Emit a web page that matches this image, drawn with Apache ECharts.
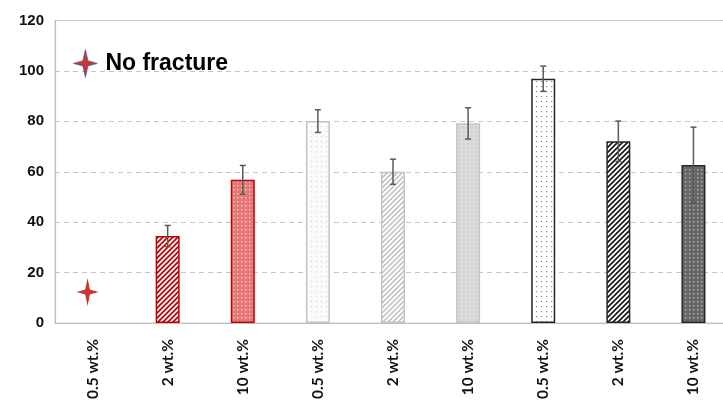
<!DOCTYPE html>
<html>
<head>
<meta charset="utf-8">
<script src="https://cdn.jsdelivr.net/npm/echarts@6/dist/echarts.min.js"></script>
<style>
  html, body { margin: 0; padding: 0; background: #fff; overflow: hidden; width: 723px; height: 404px; }
  #chart { width: 731px; height: 404px; }
</style>
</head>
<body>
<div id="chart"></div>
<script>
// Category labels along the x axis (three groups of three loadings)
const categories = ['0.5 wt.%', '2 wt.%', '10 wt.%', '0.5 wt.%', '2 wt.%', '10 wt.%', '0.5 wt.%', '2 wt.%', '10 wt.%'];
// Mean values and standard deviations (first sample did not fracture)
const means = [null, 34.5, 56.8, 80.1, 60.0, 79.2, 96.9, 72.1, 62.7];
const errors = [null, 4.2, 5.7, 4.5, 5.0, 6.2, 5.0, 8.0, 15.0];
// Marker for the unfractured sample
const noFracture = [[0, 12.3]];
const yTicks = { min: 0, max: 120, interval: 20 };

// Small canvas tiles used as bar fills
function tile(size, bg, draw) {
  const c = document.createElement('canvas');
  c.width = size; c.height = size;
  const g = c.getContext('2d');
  g.fillStyle = bg; g.fillRect(0, 0, size, size);
  draw(g, size);
  return { image: c, repeat: 'repeat' };
}
function hatch(bg, fg, size, lw) {
  return tile(size, bg, (g, s) => {
    g.strokeStyle = fg; g.lineWidth = lw;
    g.beginPath();
    g.moveTo(0, s); g.lineTo(s, 0);
    g.moveTo(-s, s); g.lineTo(s, -s);
    g.moveTo(0, 2 * s); g.lineTo(2 * s, 0);
    g.stroke();
  });
}
function dots(bg, fg, size, r) {
  return tile(size, bg, (g, s) => {
    g.fillStyle = fg;
    g.fillRect(1, 1, r, r);
  });
}

const fills = [
  { color: '#fff', border: '#c00000' },
  { color: hatch('#ffffff', '#c00000', 5, 1.7), border: '#c00000' },
  { color: dots('#e57777', '#f8d0d0', 4, 1.4), border: '#c00000' },
  { color: dots('#fbfbfb', '#d6d6d6', 5, 1.2), border: '#c4c4c4' },
  { color: hatch('#ffffff', '#bdbdbd', 5, 1.5), border: '#c4c4c4' },
  { color: dots('#d6d6d6', '#efefef', 4, 1.4), border: '#c4c4c4' },
  { color: dots('#ffffff', '#8a8a8a', 5, 1.2), border: '#262626' },
  { color: hatch('#ffffff', '#1a1a1a', 5, 1.7), border: '#262626' },
  { color: dots('#676767', '#b4b4b4', 4, 1.4), border: '#262626' }
];

const starPath = 'path://M12,0 L14.6,11.4 L24,14 L14.6,16.6 L12,28 L9.4,16.6 L0,14 L9.4,11.4 Z';

// The drawing surface runs a little past the right edge of the page,
// so the last category band is partly cut off.
const chart = echarts.init(document.getElementById('chart'), null, { renderer: 'canvas' });

chart.setOption({
  animation: false,
  backgroundColor: '#ffffff',
  grid: {
    left: 55, right: 0, top: 20.5, bottom: 81,
    show: true, borderColor: '#cfcfcf', borderWidth: 1
  },
  legend: {
    data: ['No fracture'],
    left: 68, top: 44,
    itemWidth: 24, itemHeight: 30,
    itemStyle: { borderColor: '#3a5fb0', borderWidth: 0.8 },
    textStyle: {
      fontFamily: 'Liberation Sans, Arial, sans-serif',
      fontWeight: 'bold', fontSize: 23, color: '#000',
      padding: [5, 0, 0, 3]
    }
  },
  xAxis: {
    type: 'category',
    data: categories,
    axisLine: { lineStyle: { color: '#bfbfbf', width: 1.2 } },
    axisTick: { show: false },
    axisLabel: {
      rotate: 90,
      margin: 16,
      fontFamily: 'Lato, Open Sans, sans-serif',
      fontWeight: 'bold',
      fontSize: 15.5,
      color: '#111'
    }
  },
  yAxis: {
    type: 'value',
    min: yTicks.min, max: yTicks.max, interval: yTicks.interval,
    axisLine: { show: true, lineStyle: { color: '#bfbfbf', width: 1.2 } },
    axisTick: { show: false },
    axisLabel: {
      margin: 11,
      fontFamily: 'Liberation Sans, Arial, sans-serif',
      fontWeight: 'bold',
      fontSize: 15,
      color: '#111'
    },
    splitLine: { lineStyle: { color: '#c4c4c4', type: [5, 4], width: 1.2 } }
  },
  series: [
    {
      type: 'bar',
      barWidth: 24,
      data: means.map((v, i) => ({
        value: v == null ? '-' : v,
        itemStyle: { color: fills[i].color, borderColor: fills[i].border, borderWidth: 1.5 }
      })),
      z: 2
    },
    {
      type: 'custom',
      name: 'sd',
      z: 3,
      data: means.map((v, i) => [i, v, errors[i]]).filter(d => d[1] != null),
      renderItem: function (params, api) {
        const x = api.value(0), m = api.value(1), e = api.value(2);
        const hi = api.coord([x, m + e]);
        const lo = api.coord([x, m - e]);
        const cap = 3;
        const style = { stroke: '#5a5a5a', lineWidth: 1.5 };
        return {
          type: 'group',
          children: [
            { type: 'line', shape: { x1: hi[0], y1: hi[1], x2: lo[0], y2: lo[1] }, style },
            { type: 'line', shape: { x1: hi[0] - cap, y1: hi[1], x2: hi[0] + cap, y2: hi[1] }, style },
            { type: 'line', shape: { x1: lo[0] - cap, y1: lo[1], x2: lo[0] + cap, y2: lo[1] }, style }
          ]
        };
      }
    },
    {
      type: 'scatter',
      name: 'No fracture',
      data: noFracture,
      symbol: starPath,
      symbolSize: [22, 28],
      symbolOffset: [-5, 0],
      itemStyle: { color: '#c00000' },
      z: 4
    }
  ]
});
</script>
</body>
</html>
